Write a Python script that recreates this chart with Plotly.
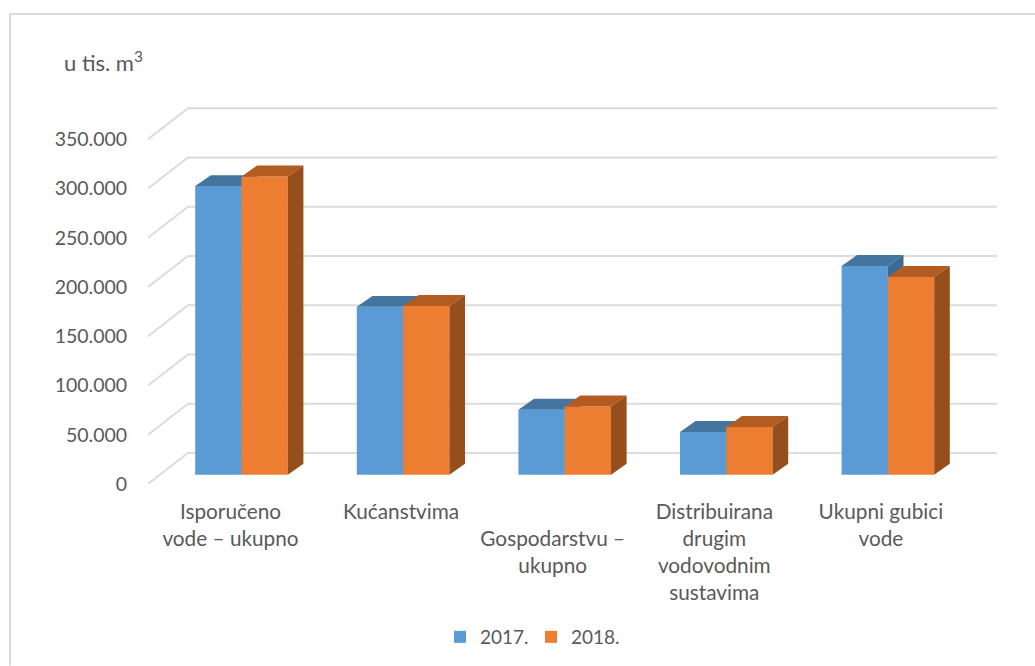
import plotly.graph_objects as go

# ---- data -------------------------------------------------------------
categories = [
    "Isporučeno<br>vode – ukupno",
    "Kućanstvima",
    "\u00a0<br>Gospodarstvu –<br>ukupno",
    "Distribuirana<br>drugim<br>vodovodnim<br>sustavima",
    "Ukupni gubici<br>vode",
]
values_2017 = [293000, 170400, 65900, 43300, 212000]
values_2018 = [302700, 171400, 69300, 48400, 200800]
y_ticks = [0, 50000, 100000, 150000, 200000, 250000, 300000, 350000]

# ---- styling / geometry ----------------------------------------------
W, H = 1035, 666
L, R = 148, 997          # plot area in px
T, Y0 = 100, 484.3       # top of plot, y-pixel of value 0 on the front plane
PX_CAT = 161.6           # px per category
PX_VAL = 345 / 350000    # px per unit of value
CENTER0 = 241.5          # px of first category centre
BAR_W = 46.3 / PX_CAT

def dx(px): return px / PX_CAT
def dv(px): return px / PX_VAL

xrange_ = [(L - CENTER0) / PX_CAT, (R - CENTER0) / PX_CAT]
yrange_ = [0, dv(Y0 - T)]
LABEL_NUDGE = [-11, -2, -12, -12, -7]  # px shift of tick labels from the bar centres
BASE = dv(9.3)           # bars stand on the floor, in front of the wall
DEPTH_X, DEPTH_V = dx(15.6), dv(11)
WALL_X, WALL_V = dx(40), dv(31)

GREY = "#595959"
GRID = "#dcdcdc"
FONT = "Lato"
COLORS = {
    "2017.": ("#5B9BD5", "#44759F", "#3B6A92"),
    "2018.": ("#ED7D31", "#B35C22", "#964F1C"),
}

fig = go.Figure()

# back wall + side wall gridlines
gx, gy = [], []
for v in y_ticks:
    gx += [xrange_[0], xrange_[0] + WALL_X, xrange_[1], None]
    gy += [v, v + WALL_V, v + WALL_V, None]
fig.add_trace(go.Scatter(x=gx, y=gy, mode="lines", line=dict(color=GRID, width=2),
                         showlegend=False, hoverinfo="skip", xaxis="x", yaxis="y"))


def add_series(name, vals, left_off, xa, ya):
    front, top, side = COLORS[name]
    tx, ty, sx, sy = [], [], [], []
    for i, v in enumerate(vals):
        x0 = i + left_off
        x1 = x0 + BAR_W
        t = v + BASE
        tx += [x0, x0 + DEPTH_X, x1 + DEPTH_X, x1, x0, None]
        ty += [t, t + DEPTH_V, t + DEPTH_V, t, t, None]
        sx += [x1, x1 + DEPTH_X, x1 + DEPTH_X, x1, x1, None]
        sy += [BASE, BASE + DEPTH_V, t + DEPTH_V, t, BASE, None]
    fig.add_trace(go.Bar(name=name, x=list(range(len(vals))), y=vals, base=BASE,
                         width=BAR_W, offset=left_off, marker=dict(color=front, line=dict(width=0)),
                         xaxis=xa, yaxis=ya))
    fig.add_trace(go.Scatter(x=tx, y=ty, mode="lines", fill="toself", fillcolor=top,
                             line=dict(width=0, color=top), showlegend=False, hoverinfo="skip",
                             xaxis=xa, yaxis=ya))
    fig.add_trace(go.Scatter(x=sx, y=sy, mode="lines", fill="toself", fillcolor=side,
                             line=dict(width=0, color=side), showlegend=False, hoverinfo="skip",
                             xaxis=xa, yaxis=ya))


add_series("2017.", values_2017, -BAR_W, "x2", "y2")
add_series("2018.", values_2018, 0, "x3", "y3")

hidden = dict(visible=False, fixedrange=True)

fig.update_layout(
    width=W, height=H,
    margin=dict(l=L, r=W - R, t=T, b=H - Y0, autoexpand=False),
    paper_bgcolor="white", plot_bgcolor="white",
    font=dict(family=FONT, color=GREY, size=18),
    showlegend=True,
    legend=dict(orientation="h", xref="container", yref="container",
                x=440 / W, xanchor="left", y=1 - 637 / H, yanchor="middle",
                font=dict(size=19, color=GREY), itemwidth=30,
                entrywidth=46, entrywidthmode="pixels",
                traceorder="normal", bgcolor="rgba(0,0,0,0)"),
    xaxis=dict(range=xrange_, showgrid=False, zeroline=False, showline=False,
               tickmode="array",
               tickvals=[i + n / PX_CAT for i, n in enumerate(LABEL_NUDGE)],
               ticktext=categories, tickangle=0,
               ticks="outside", ticklen=9, tickcolor="rgba(0,0,0,0)",
               tickfont=dict(size=20.77, family=FONT, color=GREY), fixedrange=True),
    yaxis=dict(range=yrange_, showgrid=False, zeroline=False, showline=False,
               tickmode="array", tickvals=y_ticks,
               ticktext=[f"{v:,}".replace(",", ".") for v in y_ticks],
               ticks="outside", ticklen=16, tickcolor="rgba(0,0,0,0)",
               tickfont=dict(size=19.5, family=FONT, color=GREY), fixedrange=True),
    xaxis2=dict(range=xrange_, overlaying="x", **hidden),
    yaxis2=dict(range=yrange_, overlaying="y", **hidden),
    xaxis3=dict(range=xrange_, overlaying="x", **hidden),
    yaxis3=dict(range=yrange_, overlaying="y", **hidden),
    annotations=[dict(text="u tis. m<sup>3</sup>", xref="paper", yref="paper",
                      x=(62 - L) / (R - L), y=(Y0 - 61) / (Y0 - T),
                      xanchor="left", yanchor="middle", showarrow=False,
                      font=dict(size=22, family=FONT, color=GREY))],
    shapes=[dict(type="path", xref="paper", yref="paper",
                 path=f"M {(10 - L) / (R - L)} {(Y0 - H) / (Y0 - T)} "
                      f"L {(10 - L) / (R - L)} {(Y0 - 14) / (Y0 - T)} "
                      f"L {(W - L) / (R - L)} {(Y0 - 14) / (Y0 - T)}",
                 line=dict(color="#d9d9d9", width=2))],
)

fig.write_html("out.html", config={"displayModeBar": False},
               post_script="document.body.style.margin='0';")
